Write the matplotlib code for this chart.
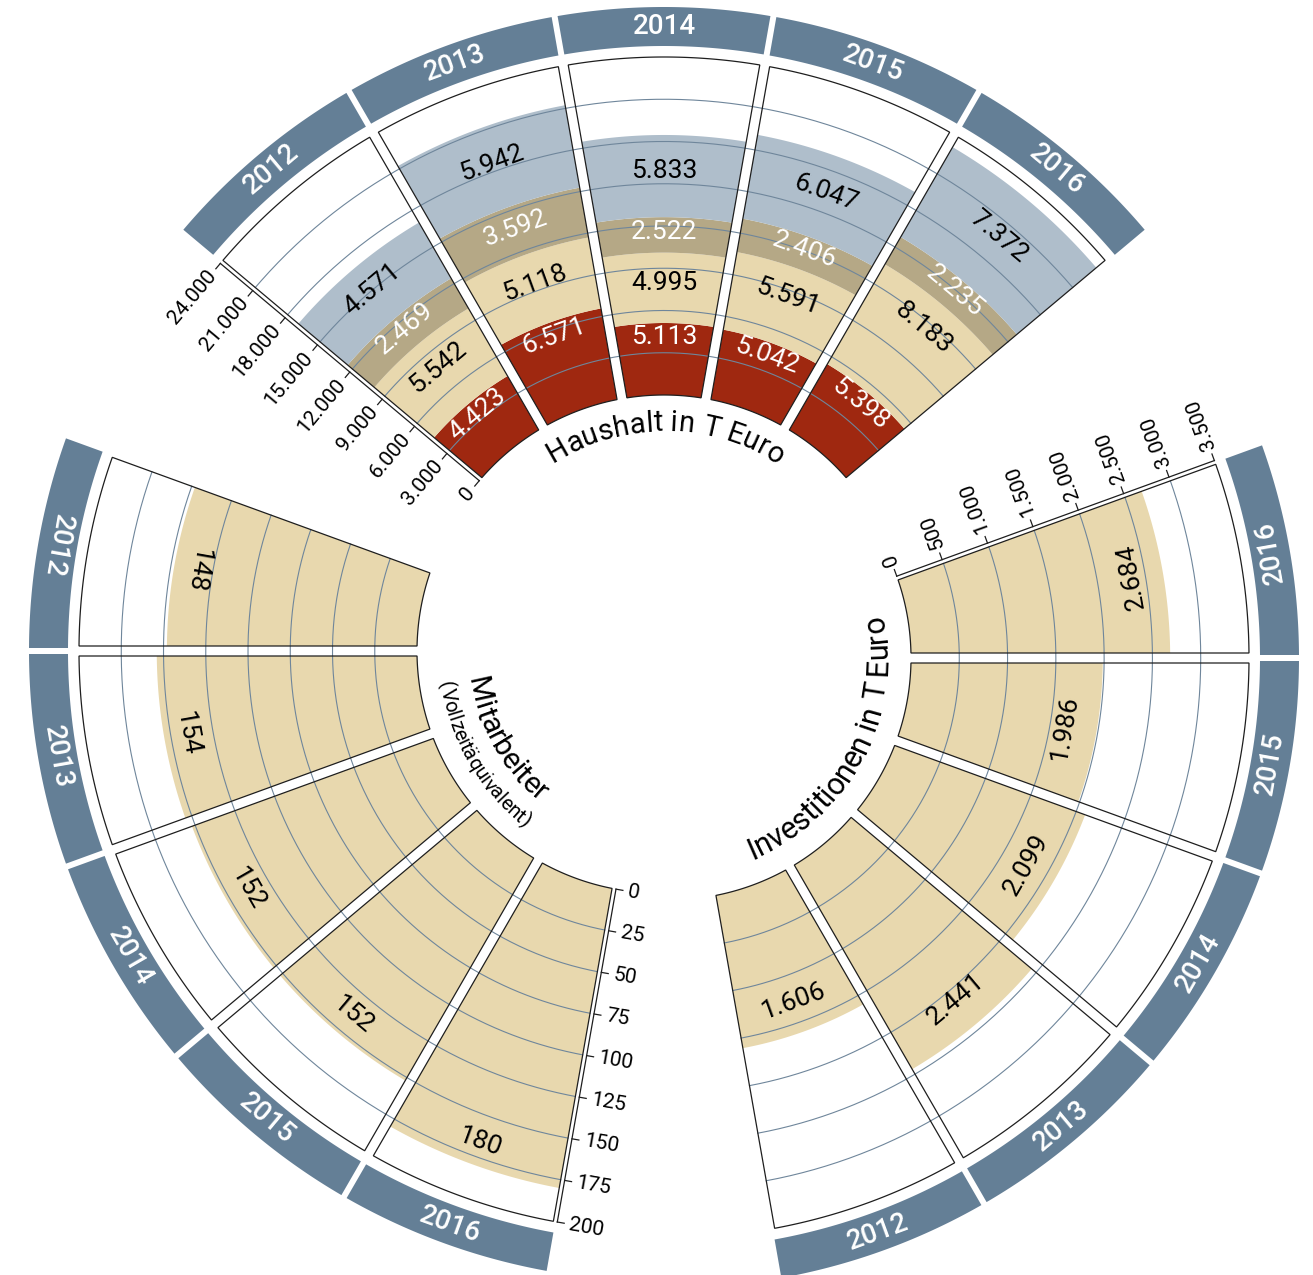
import numpy as np
import matplotlib

matplotlib.use("Agg")
import matplotlib.pyplot as plt  # noqa: E402
from matplotlib.patches import Polygon  # noqa: E402
from matplotlib.font_manager import FontProperties, findfont  # noqa: E402
from matplotlib.ft2font import FT2Font  # noqa: E402

plt.rcParams["font.family"] = ["Roboto", "DejaVu Sans"]

# data
YEARS = ["2012", "2013", "2014", "2015", "2016"]
haushalt_red = [4423, 6571, 5113, 5042, 5398]
haushalt_beige = [5542, 5118, 4995, 5591, 8183]
haushalt_tan = [2469, 3592, 2522, 2406, 2235]
haushalt_blue = [4571, 5942, 5833, 6047, 7372]
mitarbeiter = [148, 154, 152, 152, 180]
investitionen = [1606, 2441, 2099, 1986, 2684]

haushalt_ticks = list(range(0, 24001, 3000))
mitarbeiter_ticks = list(range(0, 201, 25))
invest_ticks = list(range(0, 3501, 500))

RED, BEIGE, TAN, LBLUE = "#9F2810", "#E8D8AE", "#B5A886", "#AFBECB"
BAND, GRID, EDGE = "#647F96", "#6F869B", "#1e1e1e"
WEIGHT = "normal"

W, H = 1313, 1275
R0, R1 = 242, 580            # value-axis radii (px)
BAND_IN, BAND_OUT = 591, 630  # year band
GAP, BAND_GAP = 5, 3          # half widths of the white gaps


def fmt(v):
    return f"{v:,}".replace(",", ".")


fig = plt.figure(figsize=(W / 100, H / 100), dpi=100)
ax = fig.add_axes([0, 0, 1, 1])
ax.set_xlim(0, W)
ax.set_ylim(H, 0)
ax.axis("off")


def xy(c, r, a):
    a = np.radians(a)
    return c[0] + r * np.cos(a), c[1] - r * np.sin(a)


def ring(c, r_in, r_out, lo, hi, h):
    pts = []
    for r, rev in ((r_out, False), (r_in, True)):
        d = np.degrees(np.arcsin(h / r))
        t = np.linspace(lo + d, hi - d, 80)
        if rev:
            t = t[::-1]
        x, y = xy(c, r, t)
        pts.append(np.column_stack([x, y]))
    return np.vstack(pts)


def curved(text, c, r, mid, size, outward, color="black"):
    # one glyph at a time along an arc (r = baseline radius)
    font = FT2Font(findfont(FontProperties(family="Roboto", weight=WEIGHT)))
    font.set_size(size, 72)
    adv = np.array([font.load_char(ord(ch)).linearHoriAdvance / 65536 * 100 / 72
                    for ch in text])
    s = np.cumsum(adv) - adv / 2
    half = adv.sum() / 2
    for ch, si in zip(text, s):
        if outward:
            ang = mid + np.degrees((half - si) / r)
            rot = ang - 90
        else:
            ang = mid - np.degrees((half - si) / r)
            rot = ang + 90
        x, y = xy(c, r, ang)
        ax.text(x, y, ch, rotation=rot, rotation_mode="anchor", ha="center",
                va="baseline", fontsize=size, color=color, fontweight=WEIGHT,
                zorder=6)


def sector(c, los, layers, ticks, axis_ang, tick_rot, tick_ha, bottom):
    vmax = ticks[-1]
    rad = lambda v: R0 + v * (R1 - R0) / vmax  # noqa: E731
    for i, lo in enumerate(los):
        mid = lo + 10
        rot = mid + 90 if bottom else mid - 90
        base = 0
        for vals, color, tcolor, rule in layers:
            v = vals[i]
            ra, rb = rad(base), rad(base + v)
            ax.add_patch(Polygon(ring(c, ra, rb, lo, lo + 20, GAP), closed=True,
                                 fc=color, ec="none", zorder=1))
            x, y = xy(c, rule(ra, rb), mid)
            ax.text(x, y, fmt(v), rotation=rot, rotation_mode="anchor", ha="center",
                    va="center", fontsize=19, color=tcolor, fontweight=WEIGHT,
                    zorder=5)
            base += v
    s_lo, s_hi = min(los), max(los) + 20
    for v in ticks[1:-1]:
        r = rad(v)
        d = np.degrees(np.arcsin(GAP / r))
        x, y = xy(c, r, np.linspace(s_lo + d, s_hi - d, 300))
        ax.plot(x, y, color=GRID, lw=0.8, zorder=2)
    for lo, yr in zip(los, YEARS):
        ax.add_patch(Polygon(ring(c, R0, R1, lo, lo + 20, GAP), closed=True,
                             fill=False, ec=EDGE, lw=0.9, zorder=3))
        ax.add_patch(Polygon(ring(c, BAND_IN, BAND_OUT, lo, lo + 20, BAND_GAP),
                             closed=True, fc=BAND, ec="none", zorder=1))
        mid = lo + 10
        x, y = xy(c, (BAND_IN + BAND_OUT) / 2, mid)
        ax.text(x, y, yr, rotation=mid + 90 if bottom else mid - 90,
                rotation_mode="anchor", ha="center", va="center", fontsize=20,
                color="white", fontweight="medium", zorder=5)
    # value axis along the outer edge of the sector
    a = np.radians(axis_ang)
    u = np.array([np.cos(a), -np.sin(a)])
    n = np.array([-np.sin(a), -np.cos(a)])
    c = np.asarray(c, float)
    off = 4 - GAP
    p0, p1 = c + R0 * u + off * n, c + R1 * u + off * n
    ax.plot([p0[0], p1[0]], [p0[1], p1[1]], color=EDGE, lw=0.9, zorder=3)
    for v in ticks:
        p = c + rad(v) * u + off * n
        q = p + 7 * n
        ax.plot([p[0], q[0]], [p[1], q[1]], color=EDGE, lw=0.9, zorder=3)
        t = p + 12 * n
        ax.text(t[0], t[1], fmt(v), rotation=tick_rot, rotation_mode="anchor",
                ha=tick_ha, va="center", fontsize=15, color="black",
                fontweight=WEIGHT, zorder=5)


HC, MC, IC = (664, 637), (659, 651), (669, 658)

sector(HC, [120, 100, 80, 60, 40],
       [(haushalt_red, RED, "white", lambda a, b: b - 14),
        (haushalt_beige, BEIGE, "black", lambda a, b: b - 30),
        (haushalt_tan, TAN, "white", lambda a, b: (a + b) / 2 + 3),
        (haushalt_blue, LBLUE, "black", lambda a, b: (a + b) / 2 + 5)],
       haushalt_ticks, 140, 50, "right", False)
sector(MC, [160, 180, 200, 220, 240],
       [(mitarbeiter, BEIGE, "black", lambda a, b: b - 24)],
       mitarbeiter_ticks, 260, -10, "left", True)
sector(IC, [-80, -60, -40, -20, 0],
       [(investitionen, BEIGE, "black", lambda a, b: b - 32)],
       invest_ticks, 20, 110, "left", True)

curved("Haushalt in T Euro", HC, 206, 89.5, 21, True)
curved("Mitarbeiter", MC, 193, 210, 21.5, False)
curved("(Vollzeitäquivalent)", MC, 222, 210.5, 14.5, False)
curved("Investitionen in T Euro", IC, 218, -28, 22, False)

fig.savefig("out.png", dpi=100, facecolor="white")
